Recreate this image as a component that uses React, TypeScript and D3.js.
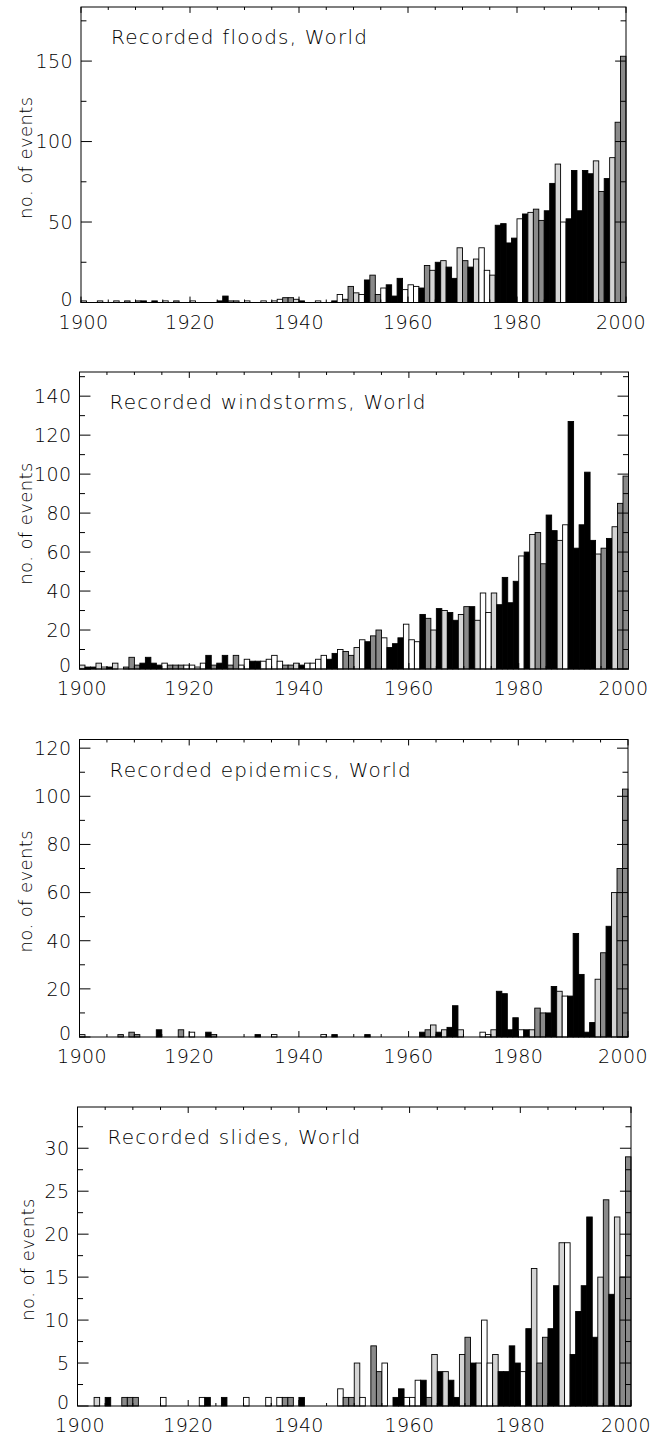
import React, { useEffect, useRef } from "react";
import * as d3 from "d3";

// one bar per year, bar for year y spans [y, y+1]
const years = d3.range(1900, 2000);

// shade of each year's bar, shared by all four panels
// B = black, G = dark grey, L = light grey, W = white
const yearShade = [
  "L", "B", "B", "L", "W", "B", "L", "G", "G", "G", // 1900s
  "G", "B", "B", "B", "B", "W", "G", "G", "G", "W", // 1910s
  "W", "W", "W", "B", "G", "B", "B", "G", "G", "W", // 1920s
  "W", "B", "B", "W", "W", "W", "W", "G", "G", "L", // 1930s
  "B", "W", "W", "W", "W", "B", "B", "W", "G", "G", // 1940s
  "L", "W", "B", "G", "G", "W", "B", "B", "B", "W", // 1950s
  "W", "W", "B", "G", "L", "B", "L", "B", "B", "L", // 1960s
  "G", "B", "L", "W", "W", "L", "B", "B", "B", "B", // 1970s
  "W", "B", "L", "G", "G", "B", "B", "L", "W", "B", // 1980s
  "B", "B", "B", "B", "L", "G", "B", "L", "G", "G", // 1990s
];

const floods = [
  1, 0, 0, 1, 0, 0, 1, 0, 1, 0,
  1, 1, 0, 1, 0, 1, 0, 1, 0, 0,
  1, 0, 0, 0, 0, 1, 4, 1, 1, 0,
  1, 0, 0, 1, 0, 1, 2, 3, 3, 2,
  1, 0, 0, 1, 0, 0, 1, 5, 2, 10,
  6, 5, 14, 17, 5, 9, 11, 4, 15, 8,
  11, 10, 9, 23, 20, 25, 26, 22, 15, 34,
  26, 22, 27, 34, 20, 17, 48, 49, 37, 40,
  52, 55, 56, 58, 51, 57, 74, 86, 50, 52,
  82, 57, 82, 80, 88, 69, 77, 90, 112, 153,
];

const windstorms = [
  2, 1, 1, 3, 1, 1, 3, 0, 1, 6,
  2, 3, 6, 3, 2, 3, 2, 2, 2, 2,
  2, 1, 3, 7, 2, 3, 7, 2, 7, 2,
  5, 4, 4, 4, 5, 7, 4, 2, 2, 3,
  2, 3, 3, 5, 7, 5, 8, 10, 9, 7,
  11, 15, 14, 17, 20, 16, 11, 13, 16, 23,
  15, 14, 28, 26, 20, 31, 30, 29, 25, 28,
  32, 32, 25, 39, 29, 39, 33, 47, 34, 45,
  58, 60, 69, 70, 54, 79, 71, 66, 74, 127,
  62, 74, 101, 66, 59, 62, 67, 73, 85, 99,
];

const epidemics = [
  1, 0, 0, 0, 0, 0, 0, 1, 0, 2,
  1, 0, 0, 0, 3, 0, 0, 0, 3, 0,
  2, 0, 0, 2, 1, 0, 0, 0, 0, 0,
  0, 0, 1, 0, 0, 1, 0, 0, 0, 0,
  0, 0, 0, 0, 1, 0, 1, 0, 0, 0,
  0, 0, 1, 0, 0, 0, 0, 0, 0, 0,
  0, 0, 2, 3, 5, 2, 3, 4, 13, 3,
  0, 0, 0, 2, 1, 3, 19, 18, 3, 8,
  3, 3, 3, 12, 10, 10, 21, 19, 17, 17,
  43, 26, 2, 6, 24, 35, 46, 60, 70, 103,
];

const slides = [
  0, 0, 0, 1, 0, 1, 0, 0, 1, 1,
  1, 0, 0, 0, 0, 1, 0, 0, 0, 0,
  0, 0, 1, 1, 0, 0, 1, 0, 0, 0,
  1, 0, 0, 0, 1, 0, 1, 1, 1, 0,
  1, 0, 0, 0, 0, 0, 0, 2, 1, 1,
  5, 1, 0, 7, 4, 5, 0, 1, 2, 1,
  1, 3, 3, 1, 6, 4, 4, 3, 1, 6,
  8, 5, 5, 10, 5, 6, 4, 4, 7, 5,
  4, 9, 16, 5, 8, 9, 14, 19, 19, 6,
  11, 14, 22, 8, 15, 24, 13, 22, 15, 29,
];

const titles = [
  "Recorded floods, World",
  "Recorded windstorms, World",
  "Recorded epidemics, World",
  "Recorded slides, World",
];
const series = [floods, windstorms, epidemics, slides];
const yMajorStep = [50, 20, 20, 5];
const yMinorStep = [25, 10, 10, 2.5];

// plot boxes (pixels) of the four stacked panels
const boxes = [
  { left: 81, right: 626, top: 7, bottom: 302.5 },
  { left: 79.5, right: 628.5, top: 372, bottom: 669 },
  { left: 79.5, right: 628, top: 739.5, bottom: 1037 },
  { left: 77.5, right: 631, top: 1107, bottom: 1406 },
];

const shadeFill: Record<string, string> = {
  B: "#000000",
  G: "#8a8a8a",
  L: "#d4d4d4",
  W: "#ffffff",
};

const FONT = "'DejaVu Sans', sans-serif";

const App = () => {
  const ref = useRef<SVGSVGElement>(null);

  useEffect(() => {
    const svg = d3.select(ref.current);
    svg.selectAll("*").remove();

    series.forEach((values, k) => {
      const b = boxes[k];
      const g = svg.append("g");

      const x = d3.scaleLinear().domain([1900, 2000]).range([b.left, b.right]);
      const yMax = (d3.max(values) as number) * 1.2;
      const y = d3.scaleLinear().domain([0, yMax]).range([b.bottom, b.top]);

      const bars = years.map((yr, i) => ({ yr, v: values[i], shade: yearShade[i] }));

      g.selectAll("rect.bar")
        .data(bars.filter(d => d.v > 0))
        .enter()
        .append("rect")
        .attr("class", "bar")
        .attr("x", d => x(d.yr))
        .attr("width", d => x(d.yr + 1) - x(d.yr))
        .attr("y", d => y(d.v))
        .attr("height", d => y(0) - y(d.v))
        .attr("fill", d => shadeFill[d.shade])
        .attr("stroke", "#000")
        .attr("stroke-width", 0.9);

      // frame
      g.append("rect")
        .attr("x", b.left)
        .attr("y", b.top)
        .attr("width", b.right - b.left)
        .attr("height", b.bottom - b.top)
        .attr("fill", "none")
        .attr("stroke", "#000")
        .attr("stroke-width", 1);

      // ticks, idl style: 2% of the plot size, minors half of that
      const xLen = 0.02 * (b.bottom - b.top);
      const yLen = 0.02 * (b.right - b.left);
      const xMinor = d3.range(1900, 2001, 5);
      const yMinor = d3.range(0, yMax + 1e-9, yMinorStep[k]);
      const yMajor = d3.range(0, yMax + 1e-9, yMajorStep[k]);
      const isXMajor = (t: number) => (t - 1900) % 20 === 0;
      const isYMajor = (t: number) => Math.abs(t / yMajorStep[k] - Math.round(t / yMajorStep[k])) < 1e-6;

      const tickPath = d3.path();
      xMinor.forEach(t => {
        const len = isXMajor(t) ? xLen : xLen / 2;
        tickPath.moveTo(x(t), b.bottom);
        tickPath.lineTo(x(t), b.bottom - len);
        tickPath.moveTo(x(t), b.top);
        tickPath.lineTo(x(t), b.top + len);
      });
      yMinor.forEach(t => {
        const len = isYMajor(t) ? yLen : yLen / 2;
        tickPath.moveTo(b.left, y(t));
        tickPath.lineTo(b.left + len, y(t));
        tickPath.moveTo(b.right, y(t));
        tickPath.lineTo(b.right - len, y(t));
      });
      g.append("path")
        .attr("d", tickPath.toString())
        .attr("stroke", "#000")
        .attr("stroke-width", 1)
        .attr("fill", "none");

      // x labels (end labels nudged inwards a little, like the original)
      g.selectAll("text.xl")
        .data(xMinor.filter(isXMajor))
        .enter()
        .append("text")
        .attr("class", "xl")
        .attr("x", d => x(d) + (d === 1900 ? 2.5 : d === 2000 ? -5 : 0))
        .attr("y", b.bottom + 26)
        .attr("text-anchor", "middle")
        .attr("font-family", FONT)
        .attr("font-weight", 200)
        .attr("font-size", 19)
        .attr("letter-spacing", 0.4)
        .text(d => String(d));

      // y labels
      g.selectAll("text.yl")
        .data(yMajor)
        .enter()
        .append("text")
        .attr("class", "yl")
        .attr("x", b.left - 8)
        .attr("y", d => y(d) + (d === 0 ? 3 : 6.8))
        .attr("text-anchor", "end")
        .attr("font-family", FONT)
        .attr("font-weight", 200)
        .attr("font-size", 19)
        .attr("letter-spacing", 0.4)
        .text(d => String(d));

      // axis title
      const midY = (b.top + b.bottom) / 2 + 3;
      g.append("text")
        .attr("transform", `translate(${k === 3 ? 33.5 : 31.5},${midY}) rotate(-90)`)
        .attr("text-anchor", "middle")
        .attr("font-family", FONT)
        .attr("font-weight", 200)
        .attr("font-size", 18)
        .attr("letter-spacing", 0.4)
        .text("no. of events");

      // panel title
      g.append("text")
        .attr("x", b.left + 30)
        .attr("y", b.top + 37.3)
        .attr("font-family", FONT)
        .attr("font-weight", 200)
        .attr("font-size", 20)
        .attr("letter-spacing", 1.2)
        .text(titles[k]);
    });
  }, []);

  return (
    <div style={{ position: "absolute", left: 0, top: 0 }}>
      <svg ref={ref} width={650} height={1439} style={{ display: "block", background: "#fff" }} />
    </div>
  );
};

export default App;
